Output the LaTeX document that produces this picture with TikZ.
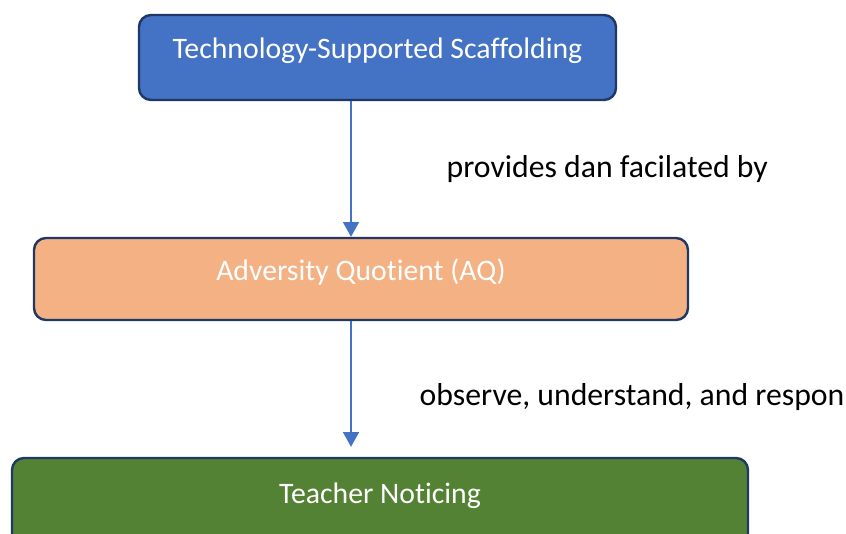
\documentclass[tikz,border=0pt]{standalone}
\usepackage{fontspec}
\setmainfont[Ligatures=NoCommon]{Carlito}
\usetikzlibrary{arrows.meta}

\definecolor{techblue}{HTML}{4472C4}
\definecolor{aqorange}{HTML}{F4B183}
\definecolor{tngreen}{HTML}{548235}
\definecolor{boxline}{HTML}{1F3864}

\begin{document}
\begin{tikzpicture}[x=0.75pt,y=-0.75pt,
    box/.style={draw=boxline,line width=1.8pt,rounded corners=9pt,text=white,
      font=\fontsize{22.3}{26}\selectfont,text height=11pt,text depth=9pt},
    flow/.style={draw=techblue,line width=0.9pt,-{Triangle[length=11pt,width=12pt]}},
    note/.style={anchor=west,font=\fontsize{23.8}{28}\selectfont}]
  \clip (0,0) rectangle (846,534);
  % the three stages, top to bottom
  \node[box,fill=techblue,minimum width=477*0.75pt,minimum height=85*0.75pt] (tech) at (377.5,57.5) {Technology-Supported Scaffolding};
  \node[box,fill=aqorange,minimum width=654*0.75pt,minimum height=82*0.75pt] (aq) at (361,279) {Adversity Quotient (AQ)};
  \node[box,fill=tngreen,minimum width=736*0.75pt,minimum height=88*0.75pt] (tn) at (380,502) {Teacher Noticing};
  % connectors run at a common x
  \coordinate (arr) at (351,0);
  \draw[flow] (tech.south -| arr) -- (aq.north -| arr);
  \draw[flow,shorten >=7.5pt] (aq.south -| arr) -- (tn.north -| arr);
  \node[note] (l1) at (442,169) {provides dan facilated by};
  \node[note] (l2) at (415,397) {observe, understand, and respon};
\end{tikzpicture}
\end{document}
